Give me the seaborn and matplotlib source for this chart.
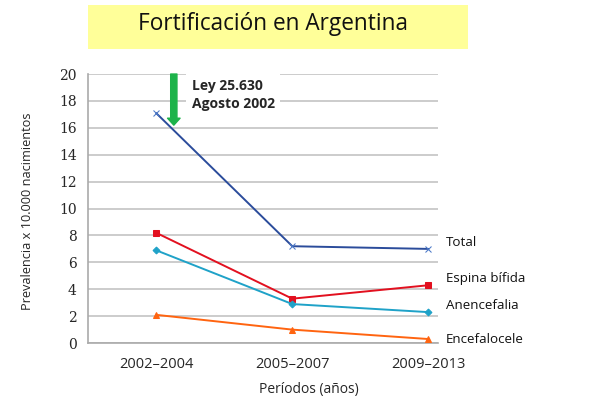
import matplotlib
matplotlib.use("Agg")
import matplotlib.pyplot as plt
import seaborn as sns
import pandas as pd
from matplotlib.patches import Rectangle

# Data
periods = ["2002\u20132004", "2005\u20132007", "2009\u20132013"]
series_names = ["Total", "Espina bífida", "Anencefalia", "Encefalocele"]
total = [17.1, 7.2, 7.0]
espina_bifida = [8.2, 3.3, 4.3]
anencefalia = [6.9, 2.9, 2.3]
encefalocele = [2.1, 1.0, 0.3]

colors = {"Total": "#2b4c9b", "Espina bífida": "#e2101f",
          "Anencefalia": "#1fa2c8", "Encefalocele": "#ff6410"}
markers = {"Total": "x", "Espina bífida": "s",
           "Anencefalia": "D", "Encefalocele": "^"}
msizes = {"Total": 5, "Espina bífida": 5, "Anencefalia": 3.5, "Encefalocele": 5}

values = [total, espina_bifida, anencefalia, encefalocele]
df = pd.DataFrame({
    "pos": [i for _ in series_names for i in range(len(periods))],
    "serie": [s for s in series_names for _ in periods],
    "valor": [v for vals in values for v in vals],
})

sns.set_style("white")
plt.rcParams["font.family"] = ["Open Sans", "DejaVu Sans"]

fig = plt.figure(figsize=(6, 3.98), dpi=100)
ax = fig.add_axes([0.1467, 0.138, 0.5833, 0.676])

# Title box
fig.patches.append(Rectangle((88 / 600, 1 - 49 / 398), 380 / 600, 44 / 398,
                             transform=fig.transFigure, facecolor="#ffff99",
                             edgecolor="none", zorder=0))
fig.text(273 / 600, 1 - 24 / 398, "Fortificación en Argentina",
         ha="center", va="center", fontsize=16.3, color="#111111")

for name in series_names:
    sub = df[df["serie"] == name]
    sns.lineplot(data=sub, x="pos", y="valor", color=colors[name],
                 marker=markers[name], markersize=msizes[name],
                 markeredgecolor=colors[name] if name != "Total" else "#4a78c8",
                 linewidth=1.4, ax=ax, zorder=3)
    last = sub["valor"].iloc[-1]
    ax.text(2.13, last, name, ha="left", va="bottom" if name != "Encefalocele" else "center",
            fontsize=9.6, color="#111111", clip_on=False)

ax.set_xlim(-0.5, 2.07)
ax.set_ylim(0, 20)
ax.set_yticks(range(0, 21, 2))
ax.tick_params(axis="y", labelfontfamily="DejaVu Serif", labelsize=10)
ax.set_xticks([0, 1, 2])
ax.set_xticklabels(periods, fontsize=10.5)
ax.set_xticks([-0.5, 0.5, 1.5], minor=True)
ax.tick_params(axis="x", which="major", length=0, pad=10)
ax.tick_params(axis="x", which="minor", length=4, color="#999999", direction="out")
ax.tick_params(axis="y", length=4, color="#999999", direction="out", pad=4)
ax.grid(True, axis="y", color="#c8c8c8", linewidth=1.3, zorder=0)
ax.set_axisbelow(True)
for s in ["top", "right"]:
    ax.spines[s].set_visible(False)
for s in ["left", "bottom"]:
    ax.spines[s].set_color("#aaaaaa")
    ax.spines[s].set_linewidth(1.2)

ax.set_xlabel("Períodos (años)", fontsize=10)
ax.xaxis.set_label_coords(0.63, -0.145)
ax.set_ylabel("Prevalencia x 10.000 nacimientos", fontsize=9.2)
ax.yaxis.set_label_coords(-0.155, 0.49)

# Law annotation
ax.text(0.26, 19.6, "Ley 25.630\nAgosto 2002", fontsize=10, fontweight="bold",
        ha="left", va="top", linespacing=1.35, zorder=4,
        bbox=dict(facecolor="white", edgecolor="none", pad=4))
ax.annotate("", xy=(0.13, 16.2), xytext=(0.13, 20),
            arrowprops=dict(arrowstyle="simple,head_width=0.9,tail_width=0.45,head_length=0.5",
                            color="#1db34a", shrinkA=0, shrinkB=0), zorder=5)

fig.savefig("out.png", dpi=100)
